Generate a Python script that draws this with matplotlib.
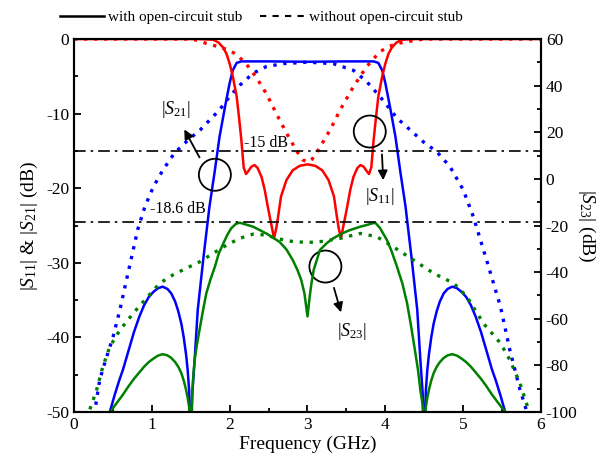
import matplotlib
matplotlib.use("Agg")
import matplotlib.pyplot as plt
from matplotlib.patches import Ellipse
from matplotlib.lines import Line2D

plt.rcParams["font.family"] = ["Liberation Serif", "DejaVu Serif"]
plt.rcParams["mathtext.fontset"] = "custom"
plt.rcParams["mathtext.rm"] = "Liberation Serif"
plt.rcParams["mathtext.it"] = "Liberation Serif:italic"
plt.rcParams["axes.unicode_minus"] = False

RED, BLUE, GREEN = "#ff0000", "#0000ff", "#008000"

# ---- data (frequency in GHz, levels in dB) ---------------------------------
# |S11| with open-circuit stub (left axis)
s11_f = [0, 1.0, 1.6, 1.79, 1.86, 1.92, 1.96, 2.0, 2.04, 2.09, 2.12, 2.15, 2.18,
         2.21, 2.24, 2.28, 2.32, 2.36, 2.41, 2.45, 2.49, 2.53, 2.57, 2.60, 2.62,
         2.66, 2.73, 2.81, 2.90, 3.0, 3.10, 3.19, 3.27, 3.34, 3.38, 3.40, 3.43,
         3.47, 3.51, 3.55, 3.59, 3.64, 3.68, 3.72, 3.76, 3.79, 3.82, 3.85, 3.88,
         3.91, 3.96, 4.0, 4.04, 4.08, 4.14, 4.21, 4.4, 5.0, 6.0]
s11_db = [0, 0, 0, -0.1, -0.5, -1.2, -2.0, -3.3, -5.0, -7.7, -10.5, -13.5, -17.2,
          -18.1, -17.7, -17.1, -16.9, -17.3, -18.5, -20.2, -22.5, -24.6, -26.7,
          -25.3, -24.0, -21.1, -18.9, -17.6, -17.0, -16.8, -17.0, -17.6, -18.9,
          -21.1, -24.0, -25.3, -26.7, -24.6, -22.5, -20.2, -18.5, -17.3, -16.9,
          -17.1, -17.7, -18.1, -17.2, -13.5, -10.5, -7.7, -5.0, -3.3, -2.0, -1.2,
          -0.5, -0.1, 0, 0, 0]

# |S11| without stub
s11n_f = [0, 1.0, 1.5, 1.6, 1.70, 1.81, 1.92, 2.01, 2.09, 2.21, 2.34, 2.47, 2.60,
          2.73, 2.86, 2.94, 3.0, 3.06, 3.12, 3.29, 3.42, 3.59, 3.76, 3.93, 4.05,
          4.15, 4.37, 4.5, 5.0, 6.0]
s11n_db = [0, 0, 0, -0.2, -0.6, -0.9, -1.25, -1.6, -2.1, -3.3, -5.1, -7.3, -10.0,
           -12.6, -15.0, -16.2, -16.5, -16.1, -15.2, -12.2, -9.5, -6.4, -3.7,
           -1.7, -1.0, -0.6, -0.2, 0, 0, 0]

# |S21| with stub
s21_f = [0.42, 0.46, 0.52, 0.58, 0.63, 0.70, 0.77, 0.84, 0.90, 0.96, 1.02, 1.08,
         1.14, 1.20, 1.25, 1.30, 1.34, 1.38, 1.41, 1.44, 1.46, 1.48, 1.50, 1.52,
         1.55, 1.59, 1.66, 1.74, 1.81, 1.87, 1.94, 2.0, 2.04, 2.09, 2.15, 2.5,
         3.0, 3.5, 3.85, 3.91, 3.96, 4.0, 4.06, 4.13, 4.19, 4.26, 4.34, 4.41,
         4.45, 4.48, 4.50, 4.52, 4.54, 4.56, 4.59, 4.62, 4.66, 4.70, 4.75, 4.80,
         4.86, 4.92, 4.98, 5.04, 5.10, 5.16, 5.23, 5.30, 5.37, 5.42, 5.48, 5.54,
         5.58]
s21_db = [-53, -50, -47.8, -45.8, -44.3, -41.8, -39.3, -37.2, -35.7, -34.6, -33.9,
          -33.4, -33.2, -33.5, -34.1, -35.2, -36.5, -38.2, -40.0, -42.3, -44.3,
          -47.2, -56, -47.5, -43.0, -36.3, -29.6, -22.5, -17.6, -13.1, -9.1, -5.9,
          -4.2, -3.2, -3.0, -3.0, -3.05, -3.0, -3.0, -3.2, -4.2, -5.9, -9.1,
          -13.1, -17.6, -22.5, -29.6, -36.3, -43.0, -47.5, -56, -47.2, -44.3,
          -42.3, -40.0, -38.2, -36.5, -35.2, -34.1, -33.5, -33.2, -33.4, -33.9,
          -34.6, -35.7, -37.2, -39.3, -41.8, -44.3, -45.8, -47.8, -50, -53]

# |S21| without stub
s21n_f = [0.22, 0.27, 0.33, 0.42, 0.50, 0.59, 0.67, 0.76, 0.82, 0.91, 1.02, 1.14,
          1.29, 1.47, 1.62, 1.74, 1.87, 2.0, 2.13, 2.30, 2.47, 2.69, 3.0, 3.33,
          3.59, 3.76, 3.93, 4.15, 4.32, 4.49, 4.66, 4.83, 5.0, 5.13, 5.30, 5.48,
          5.60, 5.73, 5.82, 5.87]
s21n_db = [-53, -49.7, -45.7, -42.6, -40.0, -36.3, -32.5, -28.3, -25.5, -22.5,
           -19.8, -17.6, -15.3, -13.5, -12.2, -10.9, -9.5, -7.7, -6.2, -4.6, -3.7,
           -3.3, -3.1, -3.3, -4.2, -5.7, -7.7, -10.6, -12.2, -13.8, -15.1, -17.1,
           -20.2, -23.8, -29.6, -35.9, -41.7, -47, -50, -53]

# |S23| with stub (right axis)
s23_f = [0.40, 0.46, 0.50, 0.57, 0.63, 0.70, 0.77, 0.84, 0.90, 0.96, 1.02, 1.08,
         1.14, 1.20, 1.25, 1.30, 1.34, 1.38, 1.41, 1.44, 1.46, 1.48, 1.50, 1.515,
         1.53, 1.55, 1.58, 1.62, 1.66, 1.70, 1.75, 1.81, 1.86, 1.92, 1.97, 2.02,
         2.08, 2.13, 2.20, 2.30, 2.47, 2.64, 2.73, 2.81, 2.87, 2.92, 2.96, 3.0,
         3.03, 3.05, 3.08, 3.16, 3.25, 3.33, 3.45, 3.55, 3.68, 3.76, 3.82, 3.87,
         3.93, 4.02, 4.08, 4.15, 4.22, 4.28, 4.33, 4.38, 4.42, 4.45, 4.48, 4.50,
         4.52, 4.54, 4.56, 4.59, 4.62, 4.66, 4.70, 4.75, 4.80, 4.86, 4.92, 4.98,
         5.04, 5.10, 5.16, 5.23, 5.30, 5.37, 5.43, 5.50, 5.56, 5.60]
s23_db = [-103, -100.4, -98.3, -95.2, -92.5, -89, -85.8, -83.0, -80.6, -78.6,
          -77.1, -75.8, -75.2, -75.7, -76.8, -78.6, -80.6, -83.4, -86.5, -90.5,
          -93.8, -98, -110, -95, -86, -77.7, -71, -63.4, -56, -49.1, -43.5,
          -37.7, -32, -27.6, -24, -21.2, -19.3, -18.8, -19.5, -20.5, -23.4, -27.0,
          -30.3, -34.8, -39, -43.4, -49, -59, -50, -45, -39, -30.5, -27.5, -25.5,
          -23.3, -21.9, -20.5, -19.8, -19.2, -18.8, -21, -26.2, -31, -37.7, -45,
          -53.4, -63, -73.4, -82, -90.6, -97, -110, -98, -93.8, -90.5, -86.5,
          -83.4, -80.6, -78.6, -76.8, -75.7, -75.2, -75.8, -77.1, -78.6, -80.6,
          -83.0, -85.8, -89, -92.5, -95.2, -98.3, -100.6, -103]

# |S23| without stub
s23n_f = [0.17, 0.20, 0.29, 0.37, 0.46, 0.59, 0.76, 0.93, 1.10, 1.27, 1.44, 1.62,
          1.79, 1.96, 2.13, 2.30, 2.47, 2.64, 2.80, 3.0, 3.2, 3.42, 3.68, 3.89,
          4.10, 4.36, 4.62, 4.88, 5.05, 5.26, 5.48, 5.60, 5.73, 5.82, 5.85]
s23n_db = [-103, -99.2, -90.6, -80.6, -72, -64.8, -57.7, -51.2, -44.8, -41.2,
           -38.4, -35.5, -31.9, -28.4, -25.5, -23.7, -24.1, -25.8, -26.8, -27.3,
           -26.8, -25.5, -23.4, -24.8, -29.1, -34.8, -40.5, -44.8, -50.6, -62,
           -70.5, -77.7, -87.7, -97, -101]

REF_S21 = -15      # left axis
REF_S23 = -18.6    # right axis

# ---- figure ----------------------------------------------------------------
fig = plt.figure(figsize=(6.08, 4.70), dpi=100)
ax = fig.add_axes([0.1217, 0.1234, 0.7681, 0.7936])
ax2 = ax.twinx()

dot = (0, (1, 2))
ax.plot(s21n_f, s21n_db, color=BLUE, lw=2.4, ls=dot)
ax.plot(s11n_f, s11n_db, color=RED, lw=2.4, ls=dot)
ax2.plot(s23n_f, s23n_db, color=GREEN, lw=2.4, ls=dot)
ax2.plot(s23_f, s23_db, color=GREEN, lw=1.8)
ax.plot(s21_f, s21_db, color=BLUE, lw=1.8)
ax.plot(s11_f, s11_db, color=RED, lw=1.8)

dashdot = (0, (7, 3, 1.5, 3))
ax.axhline(REF_S21, color="k", lw=1.2, ls=dashdot)
ax2.axhline(REF_S23, color="k", lw=1.2, ls=dashdot)

ax.set_xlim(0, 6)
ax.set_ylim(-50, 0)
ax2.set_ylim(-100, 60)
ax.set_xticks(range(7))
ax.set_xticks([0.5 + i for i in range(6)], minor=True)
ax.set_yticks(range(-50, 1, 10))
ax.set_yticks(range(-45, 0, 10), minor=True)
ax2.set_yticks(range(-100, 61, 20))
ax2.set_yticks(range(-90, 60, 20), minor=True)

ax.tick_params(which="both", direction="in", top=False, right=False,
               labelsize=12.5, width=1.3)
ax.tick_params(which="major", length=5)
ax.tick_params(which="minor", length=3)
ax2.tick_params(which="both", direction="in", labelsize=12.5, width=1.3)
ax2.tick_params(which="major", length=5)
ax2.tick_params(which="minor", length=3)
for a in (ax, ax2):
    for s in a.spines.values():
        s.set_linewidth(1.5)

ax.set_xlabel("Frequency (GHz)", fontsize=14, labelpad=2)
ax.set_ylabel(r"$|S_{11}|$ & $|S_{21}|$ (dB)", fontsize=14, labelpad=4)
ax2.set_ylabel(r"$|S_{23}|$ (dB)", fontsize=14, rotation=270, labelpad=14)

# ---- annotations (left-axis coordinates) ------------------------------------
rx, ry = 16 / 77.8, 16 / 7.46
for cx, cy in [(1.81, -18.2), (3.80, -12.4), (3.23, -30.5)]:
    ax.add_patch(Ellipse((cx, cy), 2 * rx, 2 * ry, fill=False, ec="k", lw=1.3,
                         zorder=5))
arrow = dict(arrowstyle="-|>", color="k", lw=1.3, mutation_scale=14)
ax.annotate("", xy=(1.40, -11.8), xytext=(1.63, -16.2), arrowprops=arrow)
ax.annotate("", xy=(3.975, -19.3), xytext=(3.955, -15.1), arrowprops=arrow)
ax.annotate("", xy=(3.44, -37.0), xytext=(3.33, -33.0), arrowprops=arrow)

ax.text(1.31, -9.5, r"$|S_{21}|$", fontsize=13, ha="center", va="center")
ax.text(3.93, -21.1, r"$|S_{11}|$", fontsize=13, ha="center", va="center")
ax.text(3.57, -39.2, r"$|S_{23}|$", fontsize=13, ha="center", va="center")
ax.text(2.47, -13.9, "-15 dB", fontsize=11.5, ha="center", va="center")
ax.text(1.34, -22.8, "-18.6 dB", fontsize=11.5, ha="center", va="center")

# ---- legend above the axes --------------------------------------------------
handles = [Line2D([], [], color="k", lw=1.8),
           Line2D([], [], color="k", lw=1.5, ls=(0, (3, 3)))]
fig.legend(handles, ["with open-circuit stub", "without open-circuit stub"],
           loc="center", bbox_to_anchor=(261 / 608, 1 - 17 / 470), ncol=2,
           frameon=False, fontsize=11, handlelength=2.9, handletextpad=0.3,
           columnspacing=1.1, borderaxespad=0)

fig.savefig("out.png", dpi=100)
